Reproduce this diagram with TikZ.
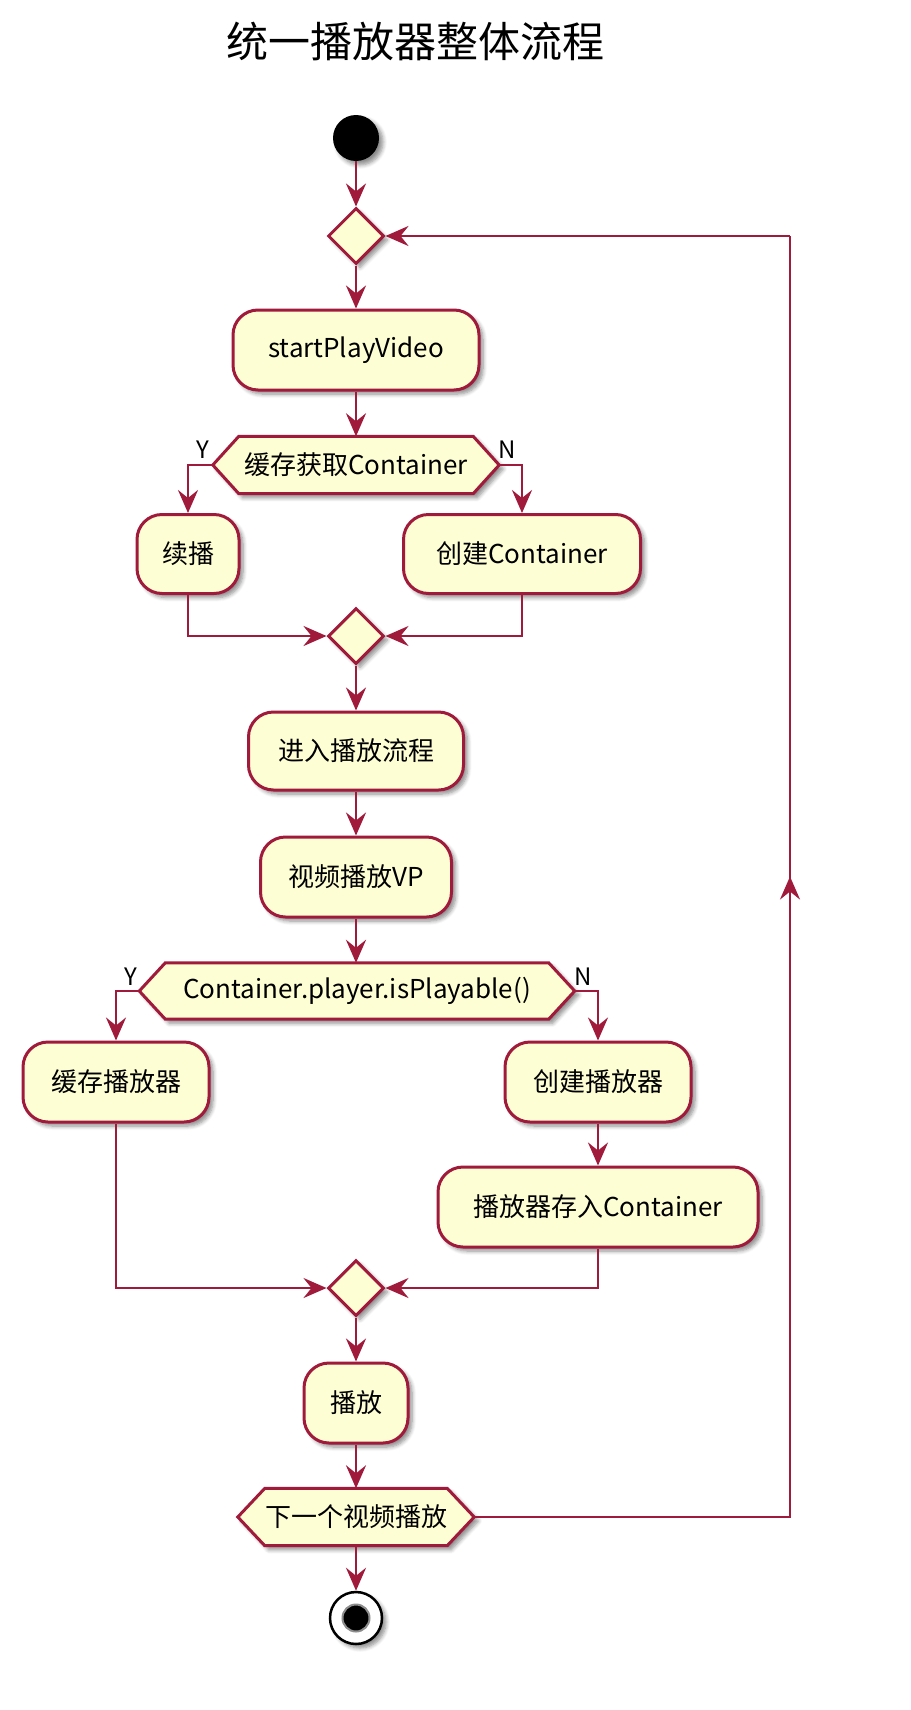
\documentclass[tikz,border=0pt]{standalone}
\usepackage{fontspec}
\setmainfont{Noto Sans CJK SC}
\usetikzlibrary{shapes.geometric,arrows.meta,calc,backgrounds,shadows.blur}
\definecolor{pu}{HTML}{A01A3C}
\definecolor{puf}{HTML}{FEFED4}
\tikzset{
  shd/.style={blur shadow={shadow xshift=4pt,shadow yshift=-4pt,shadow blur steps=6,shadow opacity=45,shadow blur radius=4pt}},
  actbox/.style={draw=pu,fill=puf,line width=3pt,rounded corners=25pt,shd,inner sep=0pt,font=\fontsize{26}{30}\selectfont},
  merge/.style={draw=pu,fill=puf,line width=3pt,diamond,aspect=1,minimum width=56pt,minimum height=56pt,inner sep=0pt,shd},
  hexin/.style={inner sep=0pt,font=\fontsize{26}{30}\selectfont},
  hexline/.style={draw=pu,fill=puf,line width=3pt,shd},
  arr/.style={draw=pu,line width=2.6pt,-{Stealth[length=23pt,width=20pt,inset=8pt]}},
  ln/.style={draw=pu,line width=2.6pt},
  lab/.style={font=\fontsize{24}{28}\selectfont,inner sep=0pt},
}
\begin{document}
\begin{tikzpicture}[x=1pt,y=-1pt]
\useasboundingbox (0,0) rectangle (910,1710);
\node[font=\fontsize{42}{48}\selectfont] (title) at (415,41) {统一播放器整体流程};

\node[circle,fill=black,minimum size=46pt,inner sep=0pt,shd] (start) at (356,138) {};
\node[merge] (d1) at (356,236) {};
\node[actbox,minimum width=246pt,minimum height=80pt] (sp) at (356,350) {startPlayVideo};

\node[hexin,minimum width=234pt,minimum height=57pt] (h1) at (356,465) {缓存获取Container};
\coordinate (h1w) at ([xshift=-26pt]h1.west);
\coordinate (h1e) at ([xshift=26pt]h1.east);

\node[actbox,minimum width=102pt,minimum height=79pt] (xb) at (188,554) {续播};
\node[actbox,minimum width=237pt,minimum height=79pt] (cc) at (522,554) {创建Container};
\node[merge] (d2) at (356,636) {};
\node[actbox,minimum width=215pt,minimum height=78pt] (enter) at (356,751) {进入播放流程};
\node[actbox,minimum width=191pt,minimum height=80pt] (vp) at (356,877) {视频播放VP};

\node[hexin,minimum width=383pt,minimum height=56pt] (h2) at (357,991) {Container.player.isPlayable()};
\coordinate (h2w) at ([xshift=-26pt]h2.west);
\coordinate (h2e) at ([xshift=26pt]h2.east);

\node[actbox,minimum width=186pt,minimum height=80pt] (cb) at (116,1082) {缓存播放器};
\node[actbox,minimum width=186pt,minimum height=80pt] (cp) at (598,1082) {创建播放器};
\node[actbox,minimum width=320pt,minimum height=80pt] (cs) at (598,1207) {播放器存入Container};
\node[merge] (d3) at (356,1288) {};
\node[actbox,minimum width=104pt,minimum height=80pt] (play) at (356,1403) {播放};

\node[hexin,minimum width=182pt,minimum height=57pt] (h3) at (356,1517) {下一个视频播放};
\coordinate (h3w) at ([xshift=-27pt]h3.west);
\coordinate (h3e) at ([xshift=27pt]h3.east);

\node[circle,draw=black,fill=white,line width=2.5pt,minimum size=52pt,inner sep=0pt,shd] (stop) at (356,1618) {};
\node[circle,fill=black,draw=black!45,line width=2pt,minimum size=27pt,inner sep=0pt] (stopin) at (356,1618) {};

\begin{scope}[on background layer]
\draw[hexline] (h1.north west) -- (h1.north east) -- (h1e) -- (h1.south east) -- (h1.south west) -- (h1w) -- cycle;
\draw[hexline] (h2.north west) -- (h2.north east) -- (h2e) -- (h2.south east) -- (h2.south west) -- (h2w) -- cycle;
\draw[hexline] (h3.north west) -- (h3.north east) -- (h3e) -- (h3.south east) -- (h3.south west) -- (h3w) -- cycle;
\end{scope}

\node[lab] (y1) at (203,450) {Y};
\node[lab] (n1) at (507,450) {N};
\node[lab] (y2) at (131,977) {Y};
\node[lab] (n2) at (583,977) {N};

\draw[arr] (start) -- (d1);
\draw[arr] (d1) -- (sp);
\draw[arr] (sp) -- (h1.north);
\draw[arr] (h1w) -| (xb.north);
\draw[arr] (h1e) -| (cc.north);
\draw[arr] (xb.south) |- (d2.west);
\draw[arr] (cc.south) |- (d2.east);
\draw[arr] (d2) -- (enter);
\draw[arr] (enter) -- (vp);
\draw[arr] (vp) -- (vp |- h2.north);
\draw[arr] (h2w) -| (cb.north);
\draw[arr] (h2e) -| (cp.north);
\draw[arr] (cp) -- (cs);
\draw[arr] (cb.south) |- (d3.west);
\draw[arr] (cs.south) |- (d3.east);
\draw[arr] (d3) -- (play);
\draw[arr] (play) -- (h3.north);
\draw[arr] (h3.south) -- (stop);

\coordinate (lb) at (790,1517);
\coordinate (lt) at (790,236);
\coordinate (lm) at ($(lb)!0.5!(lt)$);
\draw[ln] (h3e) -- (lb) -- (lt);
\draw[arr] (lt) -- (d1.east);
\draw[arr] (lb) -- (lm);
\end{tikzpicture}
\end{document}
